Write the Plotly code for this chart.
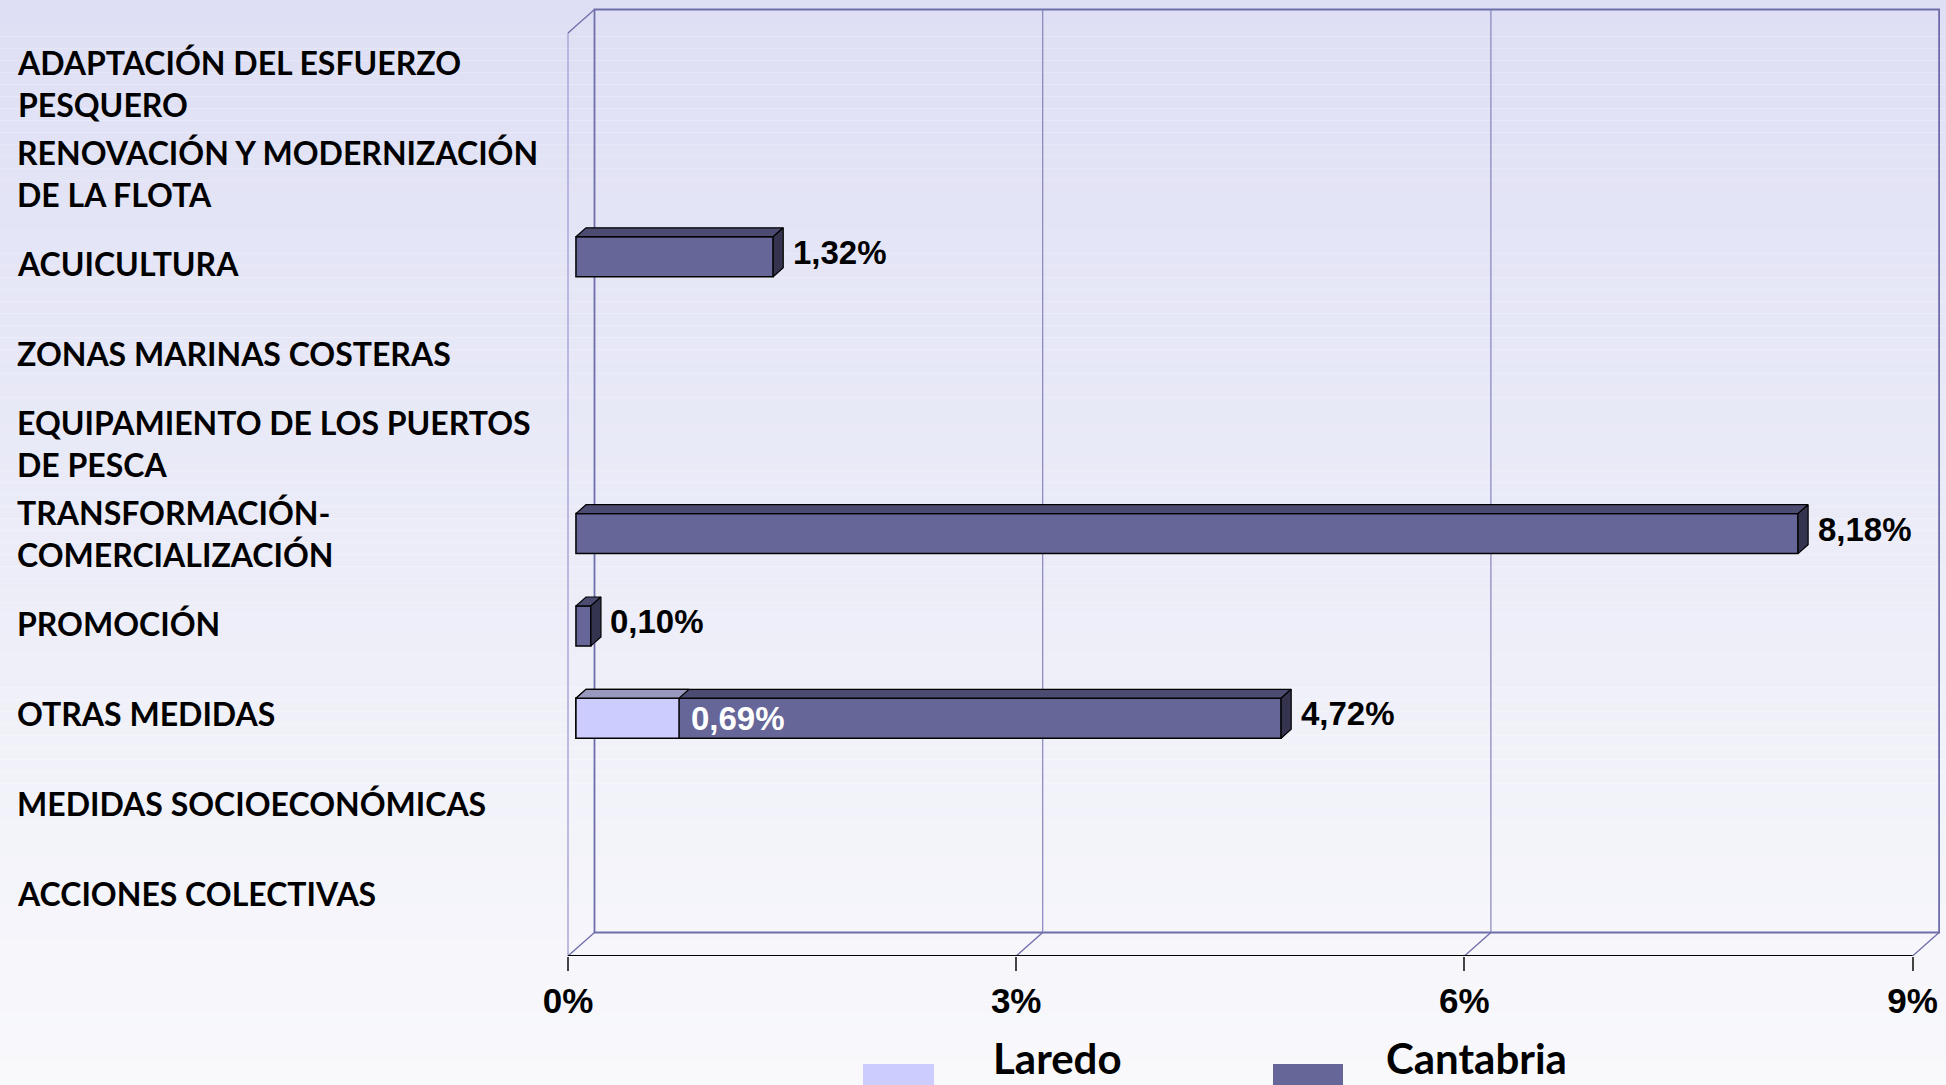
# Gráfico de barras 3D horizontales: Laredo vs Cantabria por medida
import plotly.graph_objects as go

categorias = ["ADAPTACIÓN DEL ESFUERZO<br>PESQUERO",
              "RENOVACIÓN Y MODERNIZACIÓN<br>DE LA FLOTA",
              "ACUICULTURA",
              "ZONAS MARINAS COSTERAS",
              "EQUIPAMIENTO DE LOS PUERTOS<br>DE PESCA",
              "TRANSFORMACIÓN-<br>COMERCIALIZACIÓN",
              "PROMOCIÓN",
              "OTRAS MEDIDAS",
              "MEDIDAS SOCIOECONÓMICAS",
              "ACCIONES COLECTIVAS"]
laredo = [0, 0, 0, 0, 0, 0, 0, 0.69, 0, 0]
cantabria = [0, 0, 1.32, 0, 0, 8.18, 0.10, 4.72, 0, 0]
ticks_x = [0, 3, 6, 9]
ticks_txt = ["0%", "3%", "6%", "9%"]

W, H = 1946, 1085
X0, PX_X = 568, 149.4        # pixel del 0% y pixeles por 1%
Y0, PX_C = 33, 92.3          # borde superior del plano frontal, pixeles por categoria
DX, DY = 26.5 / PX_X, 23.5 / PX_C   # profundidad en unidades de datos
FRONT, BACK = 0.30, 0.68
BAR_W = 0.433
LABEL_STEP = 0.975           # las etiquetas de la izquierda van algo mas juntas
n = len(categorias)
pos = list(range(n))

NUM_FONT = "Liberation Sans, Arial, sans-serif"
TXT_FONT = "Lato, Open Sans, sans-serif"
WALL = "#6e6eaa"

fig = go.Figure()


def faces(vals, front, top, side, name, show_side=True):
    idx = [i for i, v in enumerate(vals) if v > 0]
    fig.add_trace(go.Bar(orientation="h", name=name,
                         y=[pos[i] - FRONT * DY for i in idx],
                         x=[vals[i] for i in idx], base=FRONT * DX, width=BAR_W,
                         marker=dict(color=front, line=dict(color="black", width=1.5)),
                         showlegend=False))
    tx, ty, sx, sy = [], [], [], []
    for i in idx:
        v = vals[i]
        yt, yb = pos[i] - BAR_W / 2, pos[i] + BAR_W / 2
        tx += [FRONT * DX, v + FRONT * DX, v + BACK * DX, BACK * DX, FRONT * DX, None]
        ty += [yt - FRONT * DY, yt - FRONT * DY, yt - BACK * DY, yt - BACK * DY, yt - FRONT * DY, None]
        sx += [v + FRONT * DX, v + FRONT * DX, v + BACK * DX, v + BACK * DX, v + FRONT * DX, None]
        sy += [yt - FRONT * DY, yb - FRONT * DY, yb - BACK * DY, yt - BACK * DY, yt - FRONT * DY, None]
    fig.add_trace(go.Scatter(x=tx, y=ty, fill="toself", fillcolor=top, mode="lines",
                             line=dict(color="black", width=1.2), showlegend=False, hoverinfo="skip"))
    if show_side:
        fig.add_trace(go.Scatter(x=sx, y=sy, fill="toself", fillcolor=side, mode="lines",
                                 line=dict(color="black", width=1.2), showlegend=False, hoverinfo="skip"))


faces(cantabria, "#666699", "#4c4c73", "#34344f", "Cantabria")
faces(laredo, "#ccccff", "#9999bf", "#7a7aa0", "Laredo", show_side=False)

shapes = []
# fondo degradado
steps = 90
for k in range(steps):
    t = k / (steps - 1)
    r = round(222 + (249 - 222) * t)
    g = round(223 + (249 - 223) * t)
    b = round(244 + (252 - 244) * t)
    shapes.append(dict(type="rect", xref="paper", yref="paper", x0=0, x1=1,
                       y0=1 - (k + 1) / steps, y1=1 - k / steps, layer="below",
                       line=dict(width=0), fillcolor=f"rgb({r},{g},{b})"))
# pared del fondo
shapes.append(dict(type="rect", xref="x", yref="y", x0=DX, x1=9 + DX, y0=-0.5 - DY, y1=n - 0.5 - DY,
                   layer="below", line=dict(color=WALL, width=1.8)))
for t in ticks_x[1:-1]:
    shapes.append(dict(type="line", xref="x", yref="y", x0=t + DX, x1=t + DX, y0=-0.5 - DY, y1=n - 0.5 - DY,
                       layer="below", line=dict(color="#8484bc", width=1.2)))
# pared izquierda
shapes.append(dict(type="line", xref="x", yref="y", x0=0, x1=0, y0=-0.5, y1=n - 0.5,
                   layer="below", line=dict(color="#a8a8d8", width=1.5)))
shapes.append(dict(type="line", xref="x", yref="y", x0=0, x1=DX, y0=-0.5, y1=-0.5 - DY,
                   layer="below", line=dict(color=WALL, width=1.3)))
# suelo
for t in ticks_x:
    shapes.append(dict(type="line", xref="x", yref="y", x0=t, x1=t + DX, y0=n - 0.5, y1=n - 0.5 - DY,
                       layer="below", line=dict(color=WALL, width=1.3)))
shapes.append(dict(type="line", xref="x", yref="y", x0=0, x1=9, y0=n - 0.5, y1=n - 0.5,
                   layer="below", line=dict(color="black", width=2)))

annotations = []
mid = (n - 1) / 2
for i, c in enumerate(categorias):
    annotations.append(dict(text=c, xref="paper", yref="y", x=15 / W,
                            y=mid + LABEL_STEP * (pos[i] - mid) - 0.07,
                            xanchor="left", yanchor="middle", align="left", showarrow=False,
                            font=dict(family=TXT_FONT, size=32, weight="bold", color="black")))


def fmt(v):
    return f"{v:.2f}".replace(".", ",") + "%"


for i, v in enumerate(cantabria):
    if v > 0:
        annotations.append(dict(text=fmt(v), xref="x", yref="y", x=v + BACK * DX + 0.05,
                                y=pos[i] - (FRONT + BACK) / 2 * DY, xanchor="left", yanchor="middle",
                                showarrow=False,
                                font=dict(family=NUM_FONT, size=33, weight="bold", color="black")))
for i, v in enumerate(laredo):
    if v > 0:
        annotations.append(dict(text=fmt(v), xref="x", yref="y", x=v + FRONT * DX + 0.07,
                                y=pos[i] - FRONT * DY, xanchor="left", yanchor="middle",
                                showarrow=False,
                                font=dict(family=NUM_FONT, size=33, weight="bold", color="white")))

# leyenda manual
for x0, x1, col, txt, tx in [(863, 934, "#ccccff", "Laredo", 991), (1273, 1343, "#666699", "Cantabria", 1384)]:
    shapes.append(dict(type="rect", xref="paper", yref="paper", x0=x0 / W, x1=x1 / W,
                       y0=1 - 1092 / H, y1=1 - 1064 / H, line=dict(width=0), fillcolor=col))
    annotations.append(dict(text=txt, xref="paper", yref="paper", x=tx / W, y=1 - 1085 / H,
                            xanchor="left", yanchor="bottom", showarrow=False,
                            font=dict(family=TXT_FONT, size=42, weight="bold", color="black")))

fig.update_layout(
    width=W, height=H, margin=dict(l=0, r=0, t=0, b=0),
    paper_bgcolor="rgba(0,0,0,0)", plot_bgcolor="rgba(0,0,0,0)",
    barmode="overlay", showlegend=False,
    shapes=shapes, annotations=annotations,
    xaxis=dict(domain=[538 / W, 1], range=[(538 - X0) / PX_X, (W - X0) / PX_X],
               tickvals=ticks_x, ticktext=ticks_txt, ticks="outside", ticklen=14,
               tickwidth=1.5, tickcolor="#444", showgrid=False, zeroline=False, showline=False,
               tickfont=dict(family=NUM_FONT, size=35, weight="bold", color="black")),
    yaxis=dict(domain=[1 - 956 / H, 1], range=[n - 0.5, (0 - Y0) / PX_C - 0.5],
               showticklabels=False, showgrid=False, zeroline=False, showline=False),
)

fig.write_html("out.html", config={"displayModeBar": False},
               post_script="document.body.style.margin='0';document.body.style.overflow='hidden';")
